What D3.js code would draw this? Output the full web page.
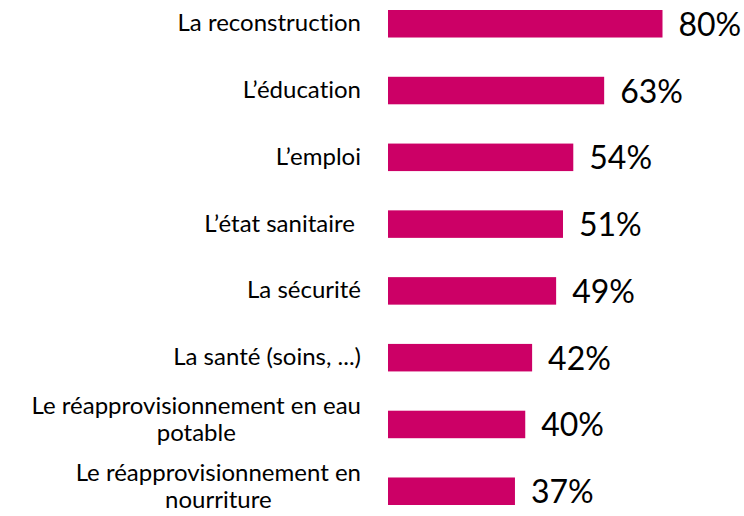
<!DOCTYPE html>
<html>
<head>
<meta charset="utf-8">
<script src="https://cdn.jsdelivr.net/npm/d3@7"></script>
<style>
  html, body { margin: 0; padding: 0; background: #ffffff; }
  svg { display: block; }
  text { white-space: pre; font-variant-ligatures: none; font-feature-settings: "liga" 0, "clig" 0; }
</style>
</head>
<body>
<div id="chart"></div>
<script>
const categories = [
  ["La reconstruction"],
  ["L\u2019éducation"],
  ["L\u2019emploi"],
  ["L\u2019état sanitaire "],
  ["La sécurité"],
  ["La santé (soins, ...)"],
  ["Le réapprovisionnement en eau", "potable"],
  ["Le réapprovisionnement en", "nourriture"]
];
const values = [80, 63, 54, 51, 49, 42, 40, 37];
const valueLabels = ["80%", "63%", "54%", "51%", "49%", "42%", "40%", "37%"];

const W = 744, H = 516;
const svg = d3.select("#chart").append("svg").attr("width", W).attr("height", H);

const keys = categories.map((c, i) => i);
const y = d3.scaleBand().domain(keys).range([10, 505]).paddingInner(0.588).paddingOuter(0);
const x = d3.scaleLinear().domain([0, 80]).range([388, 662.5]);

const color = "#CC0066";
const labelFont = "Lato, 'Open Sans', sans-serif";

svg.selectAll("rect.bar").data(values).join("rect")
  .attr("class", "bar")
  .attr("x", x(0))
  .attr("y", (d, i) => y(i))
  .attr("width", d => x(d) - x(0))
  .attr("height", y.bandwidth())
  .attr("fill", color);

svg.selectAll("text.val").data(values).join("text")
  .attr("class", "val")
  .attr("x", d => x(d) + 16)
  .attr("y", (d, i) => y(i) + y.bandwidth() / 2 + 12)
  .attr("font-family", labelFont)
  .attr("font-size", 32)
  .attr("fill", "#000")
  .text((d, i) => valueLabels[i]);

const rightEdge = 361;
const lineH = 27.5;
categories.forEach((lines, i) => {
  const cy = y(i) + y.bandwidth() / 2;
  const g = svg.append("text")
    .attr("font-family", labelFont)
    .attr("font-size", 24)
    .attr("fill", "#000");
  if (lines.length === 1) {
    g.attr("x", rightEdge).attr("y", cy + 7.5).attr("text-anchor", "end").text(lines[0]);
  } else {
    const ts = g.selectAll("tspan").data(lines).join("tspan").text(d => d);
    let maxW = 0;
    ts.each(function () { maxW = Math.max(maxW, this.getComputedTextLength()); });
    const cx = rightEdge - maxW / 2;
    g.attr("text-anchor", "middle");
    ts.attr("x", cx).attr("y", (d, j) => cy - 10.5 + j * lineH);
  }
});
</script>
</body>
</html>
